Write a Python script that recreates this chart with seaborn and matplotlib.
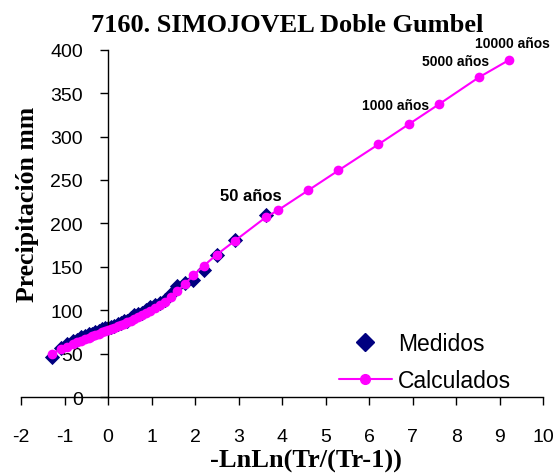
import numpy as np
import pandas as pd
import seaborn as sns
from matplotlib import pyplot as plt
from matplotlib.lines import Line2D

# Measured maxima (Gumbel reduced variate vs precipitation)
x_med = [3.624, 2.917, 2.498, 2.196, 1.958, 1.761, 1.592, 1.442, 1.308, 1.186,
         1.074, 0.969, 0.871, 0.778, 0.689, 0.604, 0.522, 0.443, 0.367, 0.291,
         0.218, 0.145, 0.073, 0.001, -0.070, -0.142, -0.215, -0.289, -0.365, -0.443,
         -0.526, -0.613, -0.707, -0.812, -0.932, -1.080, -1.291]
y_med = [210, 181, 164, 146, 135, 131, 128, 119, 112, 108,
         106, 104, 100, 97, 96, 94, 91, 88, 87, 85,
         84, 82, 81, 80, 80, 78, 76, 75, 73, 72,
         70, 69, 66, 64, 61, 57, 46]

# Double Gumbel fitted values
x_calc = [-1.291, -1.080, -0.932, -0.812, -0.707, -0.613, -0.526, -0.443, -0.365, -0.289,
          -0.215, -0.142, -0.070, 0.001, 0.073, 0.145, 0.218, 0.291, 0.367, 0.443,
          0.522, 0.604, 0.689, 0.778, 0.871, 0.969, 1.074, 1.186, 1.308, 1.442,
          1.592, 1.761, 1.958, 2.196, 2.498, 2.917, 3.624,
          3.902, 4.600, 5.296, 6.214, 6.907, 7.600, 8.517, 9.210]
y_calc = [50, 55, 58, 61, 63, 65, 67, 68.5, 70, 71.5,
          73, 74.5, 76, 77, 78.5, 80, 81.5, 83, 84.5, 86,
          88, 90, 92, 94, 96.5, 99, 102, 105.5, 110, 115,
          122, 130, 140, 151, 164, 180, 207,
          215, 238, 261, 291, 314, 337, 368, 388]

# Return period labels
lbl_text = ['50 años', '1000 años', '5000 años', '10000 años']
lbl_x = [3.902, 6.907, 8.517, 9.210]
lbl_y = [215, 314, 368, 388]
lbl_off = [(-27, 15), (-13, 19), (-23, 16), (4, 17)]
lbl_size = [12, 10, 10, 10]

med = pd.DataFrame({'x': x_med, 'y': y_med})
calc = pd.DataFrame({'x': x_calc, 'y': y_calc})

sns.set_theme(style='white')
plt.rcParams['font.family'] = ['Liberation Sans', 'DejaVu Sans']
plt.rcParams['axes.unicode_minus'] = False
plt.rcParams['text.color'] = 'black'
plt.rcParams['axes.labelcolor'] = 'black'
plt.rcParams['xtick.color'] = 'black'
plt.rcParams['ytick.color'] = 'black'

fig = plt.figure(figsize=(5.6, 4.77), dpi=100)
ax = fig.add_axes([0.0375, 0.1656, 0.9325, 0.7281])

sns.scatterplot(data=med, x='x', y='y', marker='D', s=60, color='#000080',
                edgecolor='#000080', linewidth=0, ax=ax, zorder=2)
sns.lineplot(data=calc, x='x', y='y', color='#FF00FF', marker='o', markersize=7,
             markeredgewidth=0, linewidth=1.5, sort=True, ax=ax, zorder=3)

for t, xx, yy, off, fs in zip(lbl_text, lbl_x, lbl_y, lbl_off, lbl_size):
    ax.annotate(t, (xx, yy), xytext=off, textcoords='offset pixels',
                ha='center', va='center', fontsize=fs, fontweight='bold')

ax.set_xlim(-2, 10)
ax.set_ylim(0, 400)
ax.set_xticks(range(-2, 11))
ax.set_yticks(range(0, 401, 50))
ax.spines['left'].set_position(('data', 0))
ax.spines['top'].set_visible(False)
ax.spines['right'].set_visible(False)
for s in ['left', 'bottom']:
    ax.spines[s].set_color('black')
    ax.spines[s].set_linewidth(1.0)
ax.tick_params(axis='both', direction='out', length=6, width=1, color='black',
               labelsize=14, bottom=True, left=True)
ax.tick_params(axis='x', pad=16)
ax.tick_params(axis='y', pad=12)

ax.set_xlabel('')
ax.set_ylabel('')
fig.text(306 / 560, 1 - 461 / 477, '-LnLn(Tr/(Tr-1))', ha='center', va='center',
         family='Liberation Serif', fontweight='bold', fontsize=19)
fig.text(28 / 560, 1 - 204 / 477, 'Precipitación mm', rotation=90, ha='center', va='center',
         family='Liberation Serif', fontweight='bold', fontsize=18.5)
fig.text(287 / 560, 1 - 25 / 477, '7160. SIMOJOVEL Doble Gumbel', ha='center', va='center',
         family='Liberation Serif', fontweight='bold', fontsize=19)

handles = [Line2D([], [], marker='D', color='#000080', linestyle='none', markersize=9),
           Line2D([], [], marker='o', color='#FF00FF', markersize=7, linewidth=1.5)]
ax.legend(handles, ['Medidos', 'Calculados'], loc='upper left', frameon=False,
          fontsize=16.5, bbox_to_anchor=(339 / 560, 1 - 333 / 477),
          bbox_transform=fig.transFigure, borderaxespad=0, borderpad=0,
          handlelength=2.3, labelspacing=0.6, handletextpad=0.26)

fig.savefig('out.png', dpi=100)
